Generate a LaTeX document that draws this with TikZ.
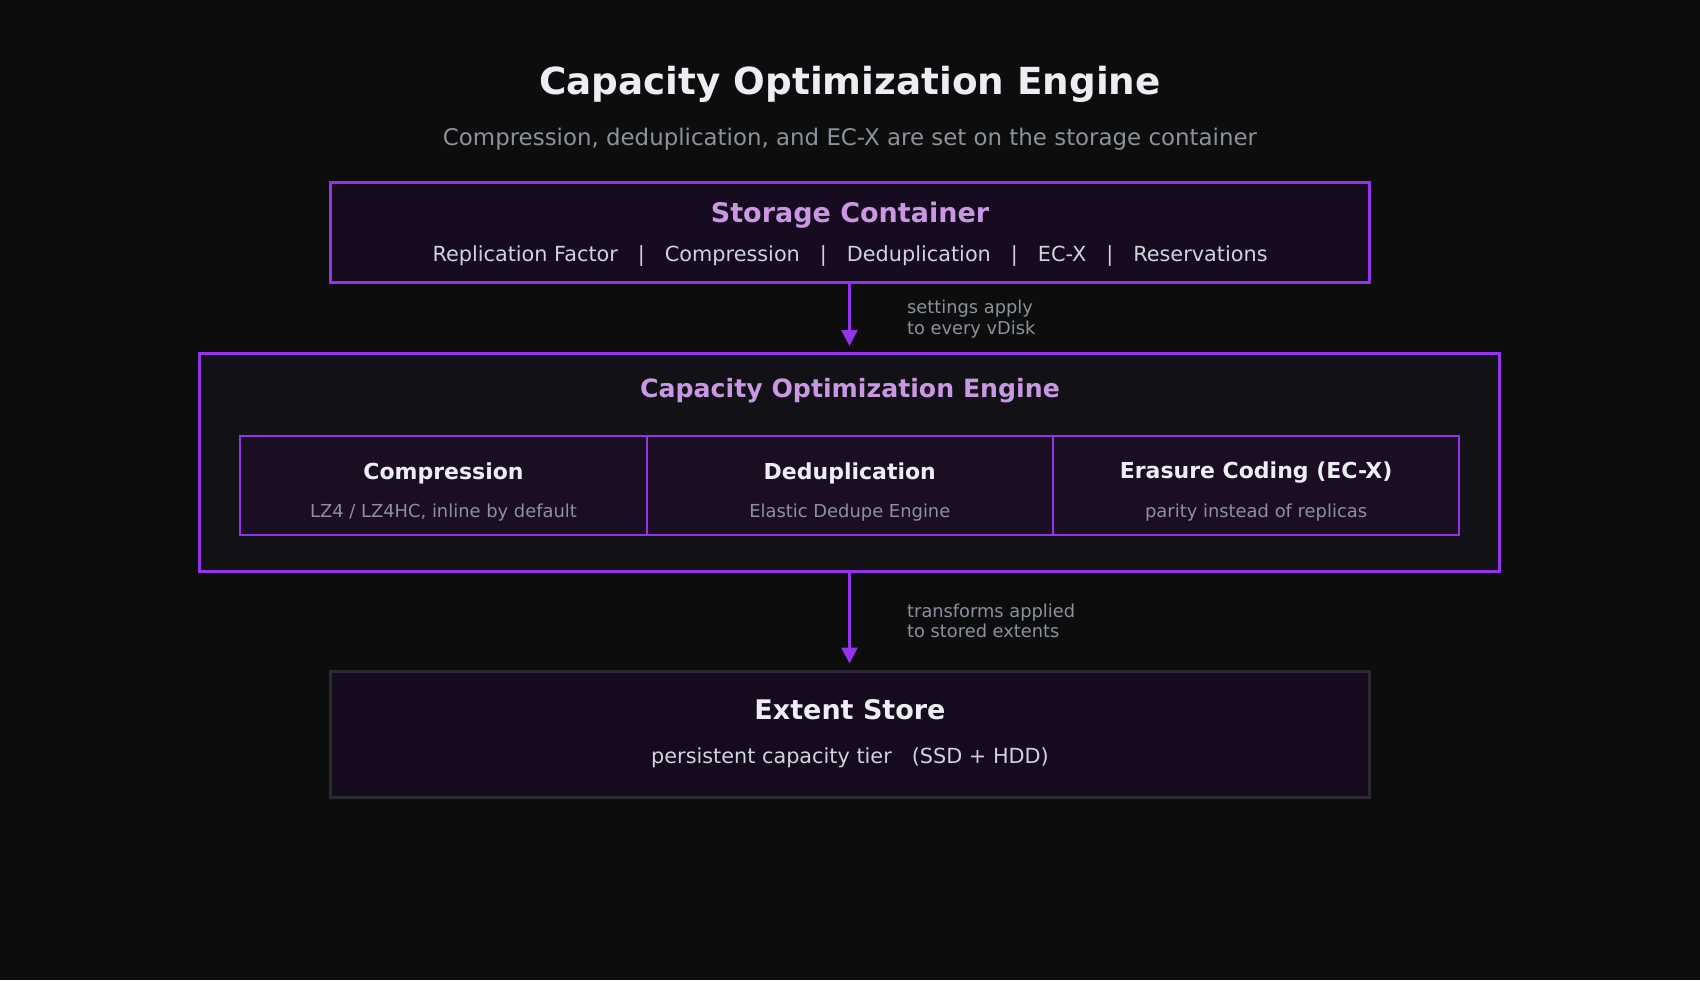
\documentclass[tikz,border=0pt]{standalone}
\usepackage{fontspec}
\setmainfont{DejaVu Sans}
\usetikzlibrary{arrows.meta}
\definecolor{bg}{HTML}{0D0D0E}
\definecolor{purp}{HTML}{9333EA}
\definecolor{lav}{HTML}{C997E3}
\definecolor{wht}{HTML}{ECEEF4}
\definecolor{gry}{HTML}{8B929C}
\definecolor{ltgry}{HTML}{D0D3DE}
\definecolor{boxA}{HTML}{170B1F}
\definecolor{boxB}{HTML}{111116}
\definecolor{boxC}{HTML}{1B0E22}
\definecolor{boxD}{HTML}{160A1E}
\definecolor{edgeD}{HTML}{2A2A32}
\tikzset{
  panel/.style={draw=purp, line width=3pt, fill=boxA, rectangle, inner sep=0pt},
  cell/.style={draw=purp, line width=2pt, fill=boxC, rectangle, inner sep=0pt, minimum width=406.3pt, minimum height=98.7pt},
  flow/.style={draw=purp, line width=2.5pt, -{Triangle[length=16pt,width=16pt]}, shorten >=6pt},
  note/.style={text=gry, font=\fontsize{17.8}{20.6}\selectfont, align=left, anchor=west, inner sep=0pt}
}
\begin{document}
\begin{tikzpicture}[x=1pt,y=-1pt]
\fill[bg] (0,0) rectangle (1700,980);
\useasboundingbox (0,0) rectangle (1700,980);
% title
\node[text=wht, font=\fontsize{37.3}{44}\selectfont\bfseries] (title) at (850,84) {Capacity Optimization Engine};
\node[text=gry, font=\fontsize{22.9}{27}\selectfont] (subtitle) at (850,139) {Compression, deduplication, and EC-X are set on the storage container};
% storage container
\node[panel, minimum width=1039pt, minimum height=100pt] (sc) at (849.5,232) {};
\node[text=lav, font=\fontsize{27}{32}\selectfont\bfseries] (sct) at (850,215) {Storage Container};
\node[text=ltgry, font=\fontsize{20.8}{25}\selectfont] (scs) at (850,256) {Replication Factor\hspace{20pt}|\hspace{20pt}Compression\hspace{20pt}|\hspace{20pt}Deduplication\hspace{20pt}|\hspace{20pt}EC-X\hspace{20pt}|\hspace{20pt}Reservations};
% engine
\node[panel, fill=boxB, minimum width=1300pt, minimum height=218pt] (eng) at (849.5,462.5) {};
\node[text=lav, font=\fontsize{25.2}{30}\selectfont\bfseries] (engt) at (850,391) {Capacity Optimization Engine};
\node[cell] (c1) at (443.5,485.2) {};
\node[cell] (c2) at (849.8,485.2) {};
\node[cell] (c3) at (1256.1,485.2) {};
\node[text=wht, font=\fontsize{22}{26}\selectfont\bfseries] (c1t) at (443.5,473) {Compression};
\node[text=gry, font=\fontsize{17.9}{21}\selectfont] (c1s) at (443.5,513) {LZ4 / LZ4HC, inline by default};
\node[text=wht, font=\fontsize{22}{26}\selectfont\bfseries] (c2t) at (849.8,473) {Deduplication};
\node[text=gry, font=\fontsize{17.9}{21}\selectfont] (c2s) at (849.8,513) {Elastic Dedupe Engine};
\node[text=wht, font=\fontsize{22}{26}\selectfont\bfseries] (c3t) at (1256.1,473) {Erasure Coding (EC-X)};
\node[text=gry, font=\fontsize{17.9}{21}\selectfont] (c3s) at (1256.1,513) {parity instead of replicas};
% extent store
\node[panel, draw=edgeD, fill=boxD, minimum width=1039pt, minimum height=126pt] (es) at (849.5,734) {};
\node[text=wht, font=\fontsize{27}{32}\selectfont\bfseries] (est) at (850,710) {Extent Store};
\node[text=ltgry, font=\fontsize{20.8}{25}\selectfont] (ess) at (850,758) {persistent capacity tier\hspace{20pt}(SSD + HDD)};
% connectors
\draw[flow] (sc.south) -- (eng.north);
\draw[flow] (eng.south) -- (es.north);
\node[note] (n1) at (907,319) {settings apply\\to every vDisk};
\node[note] (n2) at (907,621) {transforms applied\\to stored extents};
\end{tikzpicture}
\end{document}
